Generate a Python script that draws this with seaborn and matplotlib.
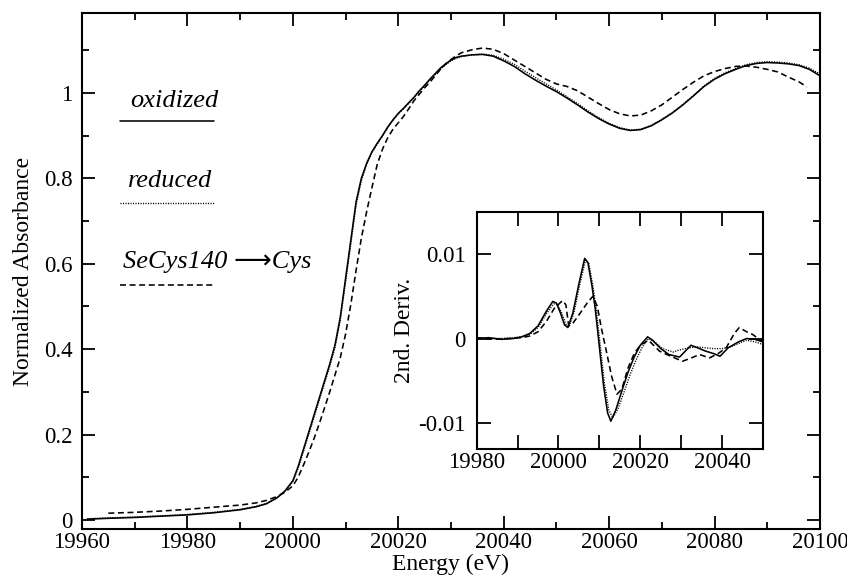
import numpy as np
import pandas as pd
import matplotlib
matplotlib.use("Agg")
import matplotlib.pyplot as plt
from matplotlib.ticker import MultipleLocator, FuncFormatter
import seaborn as sns

# ---- Se K-edge XANES, normalized absorbance ----
ox_energy = [19961, 19965, 19970, 19975, 19980, 19985, 19990, 19993, 19995, 19997,
             19998.5, 20000, 20001, 20002, 20003, 20004, 20005, 20006, 20007, 20008,
             20009, 20010, 20011, 20012, 20013, 20014, 20015, 20016, 20017, 20018,
             20019, 20020, 20021, 20022, 20023, 20024, 20025, 20026, 20027, 20028,
             20029, 20030, 20031, 20032, 20034, 20036, 20038, 20040, 20042, 20044,
             20046, 20048, 20050, 20052, 20054, 20056, 20058, 20060, 20062, 20064,
             20066, 20068, 20070, 20072, 20074, 20076, 20078, 20080, 20082, 20084,
             20086, 20088, 20090, 20092, 20094, 20096, 20098, 20100]
ox_abs = [0.002, 0.004, 0.006, 0.009, 0.012, 0.017, 0.024, 0.031, 0.038, 0.052,
          0.068, 0.092, 0.125, 0.165, 0.205, 0.245, 0.285, 0.325, 0.365, 0.410,
          0.475, 0.565, 0.655, 0.745, 0.800, 0.835, 0.862, 0.882, 0.900, 0.920,
          0.937, 0.952, 0.964, 0.977, 0.990, 1.005, 1.018, 1.032, 1.045, 1.058,
          1.068, 1.077, 1.083, 1.086, 1.089, 1.090, 1.086, 1.075, 1.062, 1.045,
          1.030, 1.016, 1.003, 0.988, 0.972, 0.955, 0.940, 0.927, 0.917, 0.912,
          0.914, 0.923, 0.937, 0.953, 0.972, 0.993, 1.015, 1.032, 1.045, 1.055,
          1.064, 1.069, 1.071, 1.070, 1.068, 1.064, 1.055, 1.040]

red_energy = ox_energy
red_abs = [0.003, 0.005, 0.007, 0.010, 0.013, 0.018, 0.025, 0.032, 0.039, 0.052,
           0.067, 0.090, 0.121, 0.160, 0.200, 0.240, 0.280, 0.320, 0.360, 0.404,
           0.468, 0.557, 0.647, 0.738, 0.795, 0.832, 0.860, 0.880, 0.899, 0.919,
           0.936, 0.951, 0.963, 0.976, 0.989, 1.003, 1.016, 1.030, 1.043, 1.056,
           1.066, 1.075, 1.081, 1.085, 1.089, 1.091, 1.088, 1.079, 1.067, 1.051,
           1.036, 1.021, 1.007, 0.991, 0.975, 0.958, 0.942, 0.929, 0.919, 0.913,
           0.915, 0.924, 0.938, 0.954, 0.973, 0.994, 1.016, 1.034, 1.047, 1.057,
           1.066, 1.071, 1.073, 1.072, 1.070, 1.066, 1.058, 1.044]

mut_energy = [19965, 19970, 19975, 19980, 19985, 19990, 19993, 19995, 19997, 19998.5,
              20000, 20001, 20002, 20003, 20004, 20005, 20006, 20007, 20008, 20009,
              20010, 20011, 20012, 20013, 20014, 20015, 20016, 20017, 20018, 20019,
              20020, 20021, 20022, 20023, 20024, 20025, 20026, 20027, 20028, 20029,
              20030, 20031, 20032, 20034, 20036, 20038, 20040, 20042, 20044, 20046,
              20048, 20050, 20052, 20054, 20056, 20058, 20060, 20062, 20064, 20066,
              20068, 20070, 20072, 20074, 20076, 20078, 20080, 20082, 20084, 20086,
              20088, 20090, 20092, 20094, 20096, 20097.5]
mut_abs = [0.016, 0.018, 0.021, 0.025, 0.030, 0.035, 0.040, 0.046, 0.055, 0.065,
           0.080, 0.100, 0.128, 0.158, 0.190, 0.225, 0.262, 0.300, 0.340, 0.380,
           0.435, 0.505, 0.585, 0.660, 0.722, 0.778, 0.832, 0.868, 0.895, 0.915,
           0.930, 0.945, 0.963, 0.982, 0.997, 1.012, 1.025, 1.040, 1.055, 1.068,
           1.078, 1.087, 1.094, 1.101, 1.105, 1.102, 1.092, 1.077, 1.062, 1.047,
           1.032, 1.021, 1.015, 1.005, 0.990, 0.975, 0.961, 0.951, 0.946, 0.948,
           0.958, 0.972, 0.990, 1.008, 1.025, 1.040, 1.050, 1.057, 1.062, 1.063,
           1.060, 1.055, 1.049, 1.037, 1.026, 1.014]

# ---- second derivative of the edge region ----
ox_d_energy = [19980, 19983, 19986, 19989, 19991, 19993, 19995, 19997, 19998.6, 19999.5,
               20000.5, 20001.5, 20002.3, 20003.5, 20005, 20006.4, 20007.2, 20008.2, 20009, 20010,
               20011, 20012, 20012.8, 20014, 20015.5, 20017, 20018.5, 20020, 20021.8, 20023,
               20025, 20027, 20029.6, 20031, 20032.4, 20034, 20036, 20038, 20039.5, 20041.5,
               20044, 20046, 20048, 20050]
ox_d = [0.0000, 0.0001, -0.0001, 0.0000, 0.0002, 0.0006, 0.0015, 0.0032, 0.0044, 0.0042,
        0.0030, 0.0016, 0.0013, 0.0030, 0.0065, 0.0095, 0.0090, 0.0062, 0.0035, -0.0010,
        -0.0055, -0.0088, -0.0098, -0.0085, -0.0062, -0.0040, -0.0022, -0.0008, 0.0002, -0.0002,
        -0.0012, -0.0019, -0.0022, -0.0015, -0.0008, -0.0011, -0.0015, -0.0018, -0.0021, -0.0011,
        -0.0004, 0.0000, -0.0001, -0.0004]

red_d_energy = [19980, 19983, 19986, 19989, 19991, 19993, 19995, 19997, 19998.8, 19999.8,
                20000.8, 20001.8, 20002.6, 20003.8, 20005.2, 20006.6, 20007.4, 20008.4, 20009.2, 20010.2,
                20011.2, 20012.3, 20013.3, 20014.5, 20016, 20017.5, 20019, 20020.5, 20022, 20023.5,
                20025.5, 20028, 20030, 20032, 20034, 20036, 20038, 20040, 20042, 20044,
                20046, 20048, 20050]
red_d = [0.0001, 0.0000, 0.0000, 0.0001, 0.0002, 0.0005, 0.0013, 0.0029, 0.0041, 0.0040,
         0.0030, 0.0017, 0.0014, 0.0031, 0.0064, 0.0093, 0.0089, 0.0063, 0.0036, -0.0008,
         -0.0052, -0.0085, -0.0094, -0.0084, -0.0064, -0.0043, -0.0025, -0.0010, 0.0000, -0.0004,
         -0.0012, -0.0016, -0.0013, -0.0011, -0.0010, -0.0011, -0.0012, -0.0012, -0.0010, -0.0006,
         -0.0002, -0.0004, -0.0007]

mut_d_energy = [19980, 19984, 19988, 19991, 19993, 19995, 19997, 19999, 20001, 20001.8,
                20002.5, 20003.5, 20005, 20007, 20008.4, 20009.5, 20010.5, 20011.7, 20013, 20014.3,
                20015.5, 20017, 20018.5, 20020, 20022, 20024.7, 20027, 20030.3, 20032.5, 20034.5,
                20036.9, 20039, 20041, 20043, 20044.2, 20046, 20047.4, 20050]
mut_d = [0.0001, -0.0001, 0.0000, 0.0001, 0.0003, 0.0008, 0.0020, 0.0036, 0.0045, 0.0040,
         0.0015, 0.0018, 0.0028, 0.0042, 0.0050, 0.0038, 0.0012, -0.0015, -0.0045, -0.0066,
         -0.0060, -0.0035, -0.0018, -0.0008, -0.0002, -0.0015, -0.0020, -0.0027, -0.0023, -0.0019,
         -0.0023, -0.0018, -0.0011, 0.0006, 0.0013, 0.0008, 0.0005, -0.0004]

series_labels = ["oxidized", "reduced", "SeCys140 \u27F6Cys"]

sns.set_style("ticks")
plt.rcParams["font.family"] = ["Liberation Serif", "DejaVu Sans"]
plt.rcParams["lines.scale_dashes"] = False
for key in ["axes.edgecolor", "xtick.color", "ytick.color", "text.color", "axes.labelcolor"]:
    plt.rcParams[key] = "black"

LW = 1.15
styles = {
    "solid": dict(color="black", linewidth=LW, linestyle="-"),
    "dotted": dict(color="black", linewidth=1.0, linestyle=(0, (0.8, 1.0))),
    "dashed": dict(color="black", linewidth=LW, linestyle=(0, (4.3, 2.6))),
}

fig = plt.figure(figsize=(8.47, 5.78), dpi=100)
ax = fig.add_axes([0.0968, 0.0848, 0.8713, 0.8927])
ins = fig.add_axes([0.5628, 0.2232, 0.3380, 0.4100])

main_df = pd.DataFrame({"E": ox_energy, "A": ox_abs})
sns.lineplot(data=main_df, x="E", y="A", ax=ax, **styles["solid"])
sns.lineplot(x=red_energy, y=red_abs, ax=ax, **styles["dotted"])
sns.lineplot(x=mut_energy, y=mut_abs, ax=ax, **styles["dashed"])

sns.lineplot(x=ox_d_energy, y=ox_d, ax=ins, **styles["solid"])
sns.lineplot(x=red_d_energy, y=red_d, ax=ins, **styles["dotted"])
sns.lineplot(x=mut_d_energy, y=mut_d, ax=ins, **styles["dashed"])

# main axes
ax.set_xlim(19960, 20100)
ax.set_ylim(-0.021, 1.187)
ax.xaxis.set_major_locator(MultipleLocator(20))
ax.xaxis.set_minor_locator(MultipleLocator(10))
ax.yaxis.set_major_locator(MultipleLocator(0.2))
ax.yaxis.set_minor_locator(MultipleLocator(0.1))
ax.yaxis.set_major_formatter(FuncFormatter(lambda v, p: f"{round(v, 2):g}"))
ax.xaxis.set_major_formatter(FuncFormatter(lambda v, p: f"{v:g}"))
ax.tick_params(which="both", direction="in", top=True, right=True, width=1.3,
               labelsize=16.5, color="black")
ax.tick_params(which="major", length=9.5)
ax.tick_params(which="minor", length=4.8)
ax.tick_params(axis="x", pad=2)
ax.tick_params(axis="y", pad=7)
ax.set_xlabel("Energy (eV)", fontsize=17, labelpad=1)
ax.set_ylabel("Normalized Absorbance", fontsize=17, labelpad=7)
for s in ax.spines.values():
    s.set_linewidth(1.5)
    s.set_visible(True)
    s.set_color("black")

# inset axes
ins.set_xlim(19980, 20050)
ins.set_ylim(-0.0131, 0.015)
ins.xaxis.set_major_locator(MultipleLocator(10))
ins.xaxis.set_major_formatter(FuncFormatter(lambda v, p: f"{v:g}" if round(v) % 20 == 0 else ""))
ins.yaxis.set_major_locator(MultipleLocator(0.01))
ins.yaxis.set_major_formatter(FuncFormatter(lambda v, p: f"{round(v, 3):g}"))
ins.tick_params(which="both", direction="in", top=True, right=True, width=1.3,
                length=10, labelsize=16.5, color="black")
ins.tick_params(axis="x", pad=2)
ins.tick_params(axis="y", pad=8)
ins.set_ylabel("2nd. Deriv.", fontsize=17, labelpad=2)
ins.set_xlabel("")
ins.set_facecolor("white")
for s in ins.spines.values():
    s.set_linewidth(1.5)
    s.set_visible(True)
    s.set_color("black")

# hand-drawn key: italic label with its line sample underneath
key_rows = [(0.065, 0.818, 0.791, "solid"),
            (0.062, 0.663, 0.632, "dotted"),
            (0.056, 0.506, 0.473, "dashed")]
for label, (tx, ty, ly, st) in zip(series_labels, key_rows):
    ax.text(tx, ty, label, transform=ax.transAxes, fontsize=19, style="italic",
            ha="left", va="baseline")
    ax.plot([0.051, 0.179], [ly, ly], transform=ax.transAxes, **styles[st])

fig.savefig("out.png", dpi=100)
